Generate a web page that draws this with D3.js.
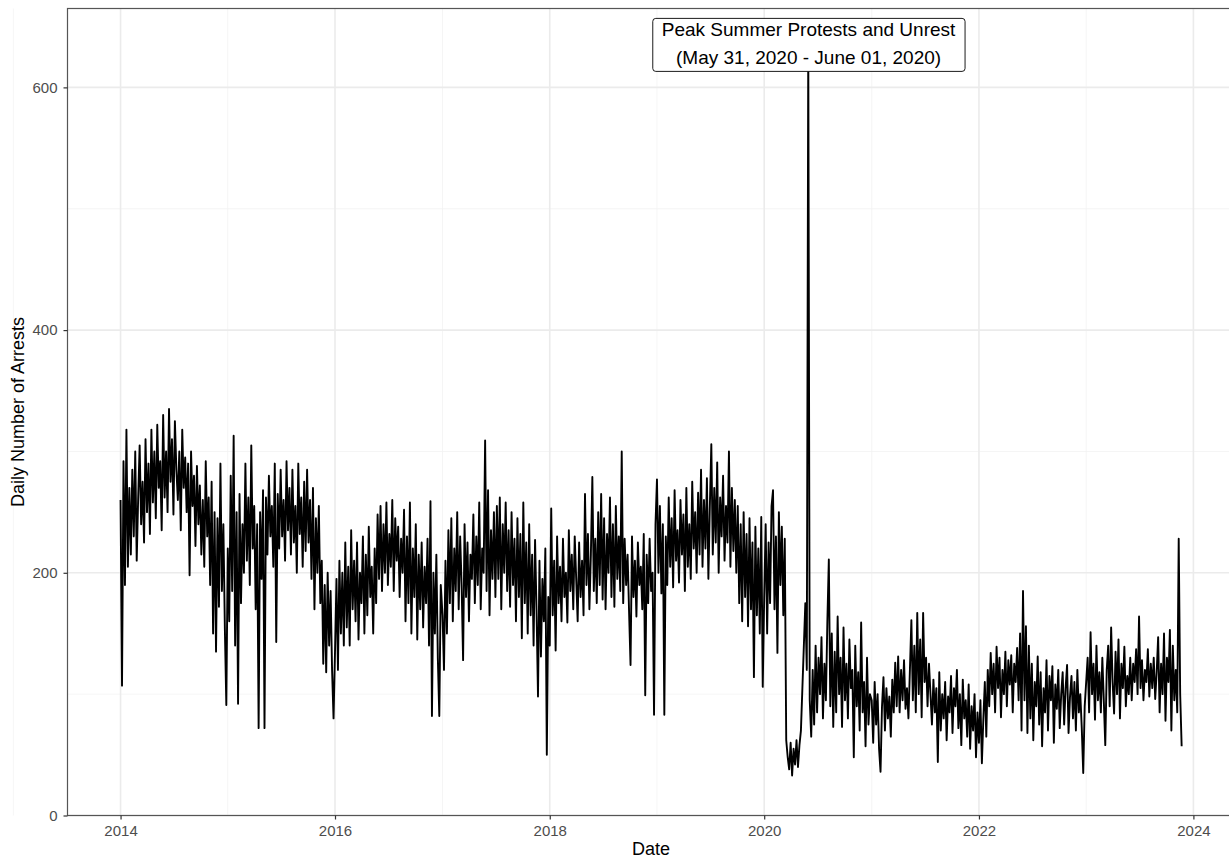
<!DOCTYPE html>
<html>
<head>
<meta charset="utf-8">
<script src="https://cdn.jsdelivr.net/npm/d3@7"></script>
<style>
  body { margin: 0; background: #fff; }
  svg { display: block; overflow: hidden; }
</style>
</head>
<body>
<svg id="chart"></svg>
<script>
// daily arrests, every 5 days starting Jan 1 of each year
const arrests2014 = [260,107,292,190,318,205,270,215,285,230,300,210,262,305,240,275,225,310,250,290,232,318,258,300,245,322,270,292,235,330,262,300,250,335,275,310,248,325,285,260,300,235,318,270,295,250,290,198,300,255,280,222,288,240,272,215,260,205,292,230,262,190,275,150,250,135,245,172,290,185,240,155,91];
const arrests2015 = [220,160,280,185,313,140,250,92,265,175,240,200,290,210,262,190,305,220,255,170,240,72,250,195,268,72,262,215,280,230,255,205,290,143,265,220,285,230,260,210,292,235,270,215,285,225,255,200,290,232,262,205,275,218,285,225,260,195,270,170,245,200,255,175,210,125,190,118,200,140,185,120,80];
const arrests2016 = [135,195,120,210,150,200,140,225,155,205,140,235,170,210,160,225,145,200,175,230,150,215,165,238,180,205,150,220,175,248,195,255,185,240,200,258,190,232,205,260,185,245,210,238,180,228,200,252,160,230,175,258,150,220,180,240,145,215,170,225,155,205,175,228,140,259,82,200,150,215,130,82,190];
const arrests2017 = [165,120,210,150,235,175,245,160,220,185,250,170,230,190,128,240,180,225,160,215,195,248,175,230,190,258,170,220,200,309,185,268,165,235,195,250,180,255,195,262,170,240,200,258,185,235,172,250,190,228,160,245,180,232,146,258,175,225,150,240,165,215,140,227,170,98,210,131,195,160,220,50,180];
const arrests2018 = [140,253,165,210,136,230,175,205,160,228,180,200,159,235,185,215,170,230,195,160,225,180,210,165,265,190,232,170,215,279,185,228,175,250,190,265,178,245,170,232,200,262,180,240,172,255,195,230,185,300,175,228,190,215,168,124,230,180,210,164,225,190,205,170,232,99,215,175,228,185,200,83,240];
const arrests2019 = [277,200,255,183,240,83,230,190,262,205,245,188,268,210,235,192,260,215,248,185,270,205,240,195,275,220,250,200,266,215,285,205,260,220,278,195,255,306,215,270,225,291,200,262,230,280,210,255,225,300,205,270,218,260,200,255,175,240,160,250,180,232,156,245,170,225,114,238,165,220,150,246,106];
const arrests2020 = [180,240,150,225,175,255,268,170,230,134,250,190,238,165,228,62,48,38,60,33,55,42,62,40,58,70,105,140,175,120,635,95,65,120,75,140,85,130,100,147,80,125,95,160,211,90,150,73,135,85,164,100,130,73,155,95,125,80,145,105,120,48,140,90,118,70,159,85,110,57,130,75,100];
const arrests2021 = [95,60,110,75,100,55,36,90,114,70,105,80,98,65,112,85,126,90,131,85,120,95,128,88,105,80,120,161,95,140,85,167,100,145,81,167,110,130,90,125,100,75,112,85,105,44,118,70,100,80,110,62,98,85,115,68,105,90,120,72,100,58,112,80,95,65,108,55,90,70,100,48,85];
const arrests2022 = [60,95,43,80,110,65,120,90,134,100,125,85,139,105,130,81,120,100,135,90,128,108,132,85,125,110,138,95,150,70,185,95,156,68,140,80,125,62,110,90,131,75,118,57,105,85,128,70,115,95,123,60,108,88,120,72,100,118,75,105,124,68,98,115,80,110,70,120,85,100,72,35,90];
const arrests2023 = [110,130,85,151,100,125,79,140,95,118,85,130,95,58,120,140,90,155,110,84,135,100,145,80,125,105,139,90,115,100,130,95,125,110,137,100,164,105,128,95,120,110,137,98,125,105,130,96,118,147,85,125,100,150,78,130,110,153,70,140,95,120,85,228,100,57];

const years = [2014, 2015, 2016, 2017, 2018, 2019, 2020, 2021, 2022, 2023];
const yearValues = [arrests2014, arrests2015, arrests2016, arrests2017, arrests2018, arrests2019, arrests2020, arrests2021, arrests2022, arrests2023];
const stepDays = 5;

const xTickYears = [2014, 2016, 2018, 2020, 2022, 2024];
const xMinorYears = [2013, 2015, 2017, 2019, 2021, 2023, 2025];
const yTicks = [0, 200, 400, 600];
const yMinor = [100, 300, 500];
const yMax = 665;

const peakDate = new Date(2020, 4, 31);
const peakValue = 635;
const peakLabel = ["Peak Summer Protests and Unrest", "(May 31, 2020 - June 01, 2020)"];

// Build the series
const data = [];
years.forEach((yr, k) => {
  yearValues[k].forEach((v, i) => {
    data.push({ date: d3.timeDay.offset(new Date(yr, 0, 1), i * stepDays), value: v });
  });
});

const width = 1229;
const height = 859;
const panel = { left: 67.5, top: 8.5, right: 1234.7, bottom: 815.5 };
const font = "'Liberation Sans', Arial, sans-serif";

const svg = d3.select("#chart")
  .attr("width", width)
  .attr("height", height);

// x scale with 5% padding on each side like ggplot
const ext = d3.extent(data, d => d.date);
const pad = (ext[1] - ext[0]) * 0.05;
const xScale = d3.scaleTime()
  .domain([new Date(+ext[0] - pad), new Date(+ext[1] + pad)])
  .range([panel.left, panel.right]);

const yScale = d3.scaleLinear()
  .domain([0, yMax])
  .range([panel.bottom, panel.top]);

// Grid lines
const grid = svg.append("g");
grid.selectAll(".xminor")
  .data(xMinorYears)
  .join("line")
  .attr("x1", d => xScale(new Date(d, 0, 1)))
  .attr("x2", d => xScale(new Date(d, 0, 1)))
  .attr("y1", panel.top).attr("y2", panel.bottom)
  .attr("stroke", "#f2f2f2").attr("stroke-width", 0.8);
grid.selectAll(".yminor")
  .data(yMinor)
  .join("line")
  .attr("x1", panel.left).attr("x2", panel.right)
  .attr("y1", d => yScale(d)).attr("y2", d => yScale(d))
  .attr("stroke", "#f2f2f2").attr("stroke-width", 0.8);
grid.selectAll(".xmajor")
  .data(xTickYears)
  .join("line")
  .attr("x1", d => xScale(new Date(d, 0, 1)))
  .attr("x2", d => xScale(new Date(d, 0, 1)))
  .attr("y1", panel.top).attr("y2", panel.bottom)
  .attr("stroke", "#ebebeb").attr("stroke-width", 1.6);
grid.selectAll(".ymajor")
  .data(yTicks)
  .join("line")
  .attr("x1", panel.left).attr("x2", panel.right)
  .attr("y1", d => yScale(d)).attr("y2", d => yScale(d))
  .attr("stroke", "#ebebeb").attr("stroke-width", 1.6);

// The series line
const line = d3.line()
  .x(d => xScale(d.date))
  .y(d => yScale(d.value));

svg.append("path")
  .datum(data)
  .attr("fill", "none")
  .attr("stroke", "#000")
  .attr("stroke-width", 1.9)
  .attr("stroke-linejoin", "round")
  .attr("d", line);

// Panel border
svg.append("rect")
  .attr("x", panel.left).attr("y", panel.top)
  .attr("width", panel.right - panel.left)
  .attr("height", panel.bottom - panel.top)
  .attr("fill", "none")
  .attr("stroke", "#555")
  .attr("stroke-width", 1.2);

// Axes
const xAxis = svg.append("g")
  .attr("transform", `translate(0,${panel.bottom})`)
  .call(d3.axisBottom(xScale)
    .tickValues(xTickYears.map(y => new Date(y, 0, 1)))
    .tickFormat(d3.timeFormat("%Y"))
    .tickSize(4).tickPadding(6));

const yAxis = svg.append("g")
  .attr("transform", `translate(${panel.left},0)`)
  .call(d3.axisLeft(yScale)
    .tickValues(yTicks)
    .tickSize(4).tickPadding(6));

[xAxis, yAxis].forEach(ax => {
  ax.select(".domain").remove();
  ax.selectAll(".tick line").attr("stroke", "#333").attr("stroke-width", 1.2);
  ax.selectAll(".tick text")
    .attr("fill", "#4d4d4d")
    .style("font-family", font)
    .style("font-size", "15px");
});

// Axis titles
svg.append("text")
  .attr("x", (panel.left + panel.right) / 2)
  .attr("y", 855)
  .attr("text-anchor", "middle")
  .style("font-family", font)
  .style("font-size", "18px")
  .text("Date");

svg.append("text")
  .attr("transform", `translate(24,${(panel.top + panel.bottom) / 2}) rotate(-90)`)
  .attr("text-anchor", "middle")
  .style("font-family", font)
  .style("font-size", "18px")
  .text("Daily Number of Arrests");

// Peak annotation label
const cx = xScale(peakDate);
const cy = yScale(peakValue);
const lab = svg.append("g");
const box = lab.append("rect");
const txt = lab.append("text")
  .attr("text-anchor", "middle")
  .style("font-family", font)
  .style("font-size", "19px");
txt.selectAll("tspan")
  .data(peakLabel)
  .join("tspan")
  .attr("x", cx)
  .attr("y", (d, i) => i === 0 ? cy - 8.5 : cy + 19.2)
  .text(d => d);

const bb = txt.node().getBBox();
box.attr("x", bb.x - 9)
  .attr("y", cy - 26.5)
  .attr("width", bb.width + 18)
  .attr("height", 53)
  .attr("rx", 3)
  .attr("fill", "#fff")
  .attr("stroke", "#000")
  .attr("stroke-width", 0.9);
</script>
</body>
</html>
